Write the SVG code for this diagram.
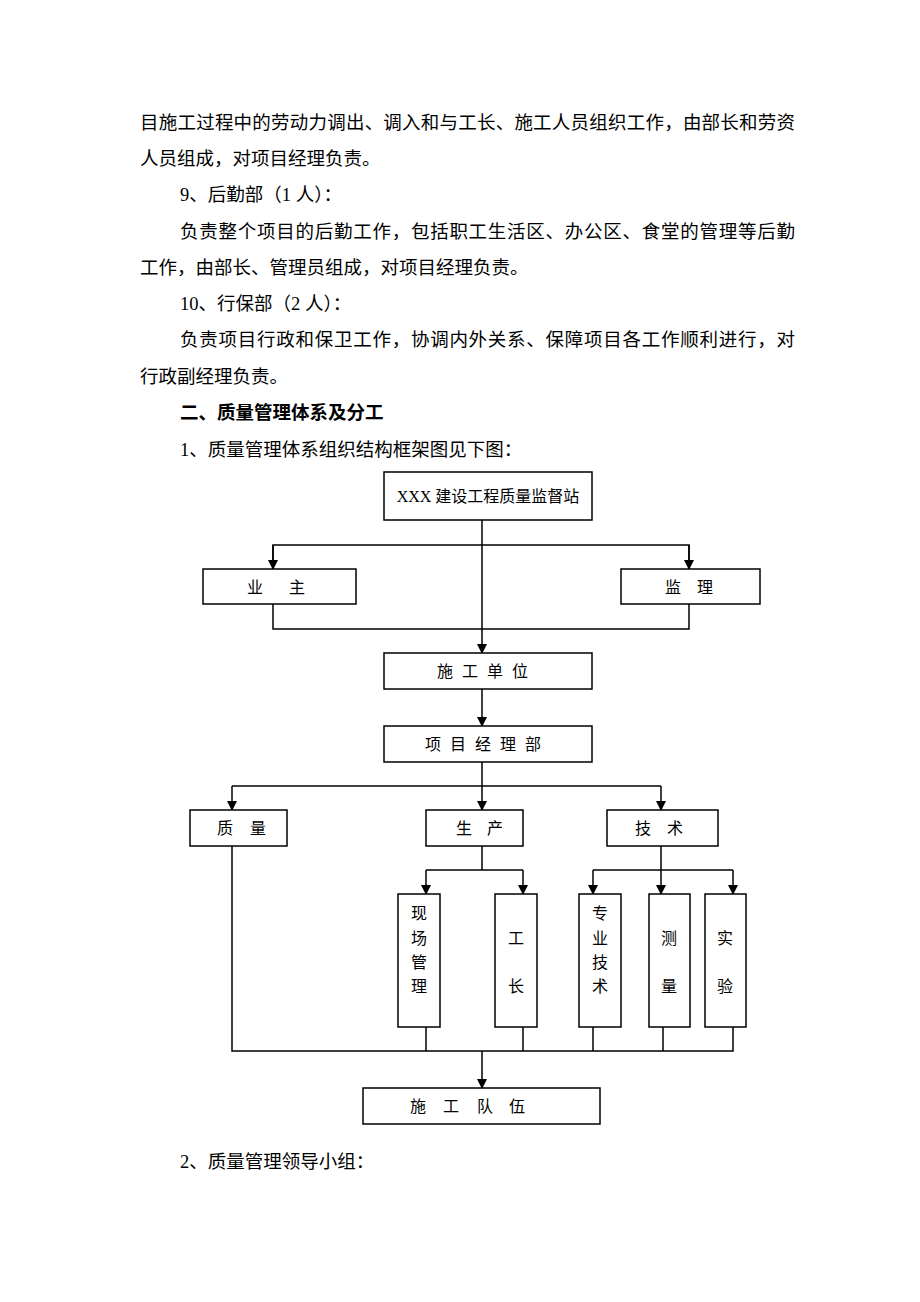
<svg xmlns="http://www.w3.org/2000/svg" width="920" height="1302" viewBox="0 0 920 1302">
<defs>
<style>
.p{font-family:"Liberation Serif","Noto Sans CJK SC",serif;font-size:18.5px;fill:#000}
.b{font-weight:bold}
.t{font-family:"Liberation Serif","Noto Sans CJK SC",serif;font-size:16px;fill:#000;text-anchor:middle}
.box{fill:#fff;stroke:#000;stroke-width:1.5}
.ln{fill:none;stroke:#000;stroke-width:1.5}
</style>
<marker id="ah" markerWidth="10" markerHeight="10" refX="9" refY="5" orient="auto" markerUnits="userSpaceOnUse">
<path d="M0,0 L10,5 L0,10 Z" fill="#000"/>
</marker>
</defs>
<rect width="920" height="1302" fill="#fff"/>
<g id="body-text">
<text class="p" x="140" y="129" textLength="655" lengthAdjust="spacing">目施工过程中的劳动力调出、调入和与工长、施工人员组织工作，由部长和劳资</text>
<text class="p" x="140" y="165">人员组成，对项目经理负责。</text>
<text class="p" x="180" y="201">9、后勤部（1 人）：</text>
<text class="p" x="180" y="238" textLength="615" lengthAdjust="spacing">负责整个项目的后勤工作，包括职工生活区、办公区、食堂的管理等后勤</text>
<text class="p" x="140" y="274">工作，由部长、管理员组成，对项目经理负责。</text>
<text class="p" x="180" y="310">10、行保部（2 人）：</text>
<text class="p" x="180" y="346" textLength="615" lengthAdjust="spacing">负责项目行政和保卫工作，协调内外关系、保障项目各工作顺利进行，对</text>
<text class="p" x="140" y="383">行政副经理负责。</text>
<text class="p b" x="180" y="419">二、质量管理体系及分工</text>
<text class="p" x="180" y="456">1、质量管理体系组织结构框架图见下图：</text>
<text class="p" x="180" y="1168">2、质量管理领导小组：</text>
</g>
<g id="connectors">
<line class="ln" x1="482" y1="520" x2="482" y2="653" marker-end="url(#ah)"/>
<polyline class="ln" points="273,569 273,545 689,545 689,569" />
<line class="ln" x1="273" y1="545" x2="273" y2="569" marker-end="url(#ah)"/>
<line class="ln" x1="689" y1="545" x2="689" y2="569" marker-end="url(#ah)"/>
<polyline class="ln" points="273,604 273,629 689,629 689,604"/>
<line class="ln" x1="482" y1="689" x2="482" y2="726" marker-end="url(#ah)"/>
<line class="ln" x1="482" y1="762" x2="482" y2="810" marker-end="url(#ah)"/>
<line class="ln" x1="232" y1="786" x2="661" y2="786"/>
<line class="ln" x1="232" y1="786" x2="232" y2="810" marker-end="url(#ah)"/>
<line class="ln" x1="661" y1="786" x2="661" y2="810" marker-end="url(#ah)"/>
<line class="ln" x1="482" y1="846" x2="482" y2="870"/>
<line class="ln" x1="426" y1="870" x2="523" y2="870"/>
<line class="ln" x1="426" y1="870" x2="426" y2="894" marker-end="url(#ah)"/>
<line class="ln" x1="523" y1="870" x2="523" y2="894" marker-end="url(#ah)"/>
<line class="ln" x1="661" y1="846" x2="661" y2="894" marker-end="url(#ah)"/>
<line class="ln" x1="593" y1="870" x2="733" y2="870"/>
<line class="ln" x1="593" y1="870" x2="593" y2="894" marker-end="url(#ah)"/>
<line class="ln" x1="733" y1="870" x2="733" y2="894" marker-end="url(#ah)"/>
<polyline class="ln" points="232,846 232,1051 733,1051 733,1027"/>
<line class="ln" x1="426" y1="1027" x2="426" y2="1051"/>
<line class="ln" x1="523" y1="1027" x2="523" y2="1051"/>
<line class="ln" x1="593" y1="1027" x2="593" y2="1051"/>
<line class="ln" x1="663" y1="1027" x2="663" y2="1051"/>
<line class="ln" x1="482" y1="1051" x2="482" y2="1088" marker-end="url(#ah)"/>
</g>
<g id="n-station"><rect class="box" x="384" y="472" width="208" height="48"/><text class="t" x="488" y="502">XXX 建设工程质量监督站</text></g>
<g id="n-owner"><rect class="box" x="203" y="569" width="153" height="35"/><text class="t" x="255 297" y="593">业主</text></g>
<g id="n-supervisor"><rect class="box" x="621" y="569" width="139" height="35"/><text class="t" x="673 705" y="593">监理</text></g>
<g id="n-contractor"><rect class="box" x="384" y="653" width="208" height="36"/><text class="t" x="445 470 495 520" y="677">施工单位</text></g>
<g id="n-pm"><rect class="box" x="384" y="726" width="208" height="36"/><text class="t" x="433 458 483 508 533" y="750">项目经理部</text></g>
<g id="n-quality"><rect class="box" x="190" y="810" width="97" height="36"/><text class="t" x="225 258" y="834">质量</text></g>
<g id="n-production"><rect class="box" x="426" y="810" width="97" height="36"/><text class="t" x="464 495" y="834">生产</text></g>
<g id="n-tech"><rect class="box" x="607" y="810" width="111" height="36"/><text class="t" x="643 675" y="834">技术</text></g>
<g id="n-site"><rect class="box" x="398" y="894" width="42" height="133"/><text class="t" x="419" y="919">现</text><text class="t" x="419" y="944">场</text><text class="t" x="419" y="968">管</text><text class="t" x="419" y="992">理</text></g>
<g id="n-foreman"><rect class="box" x="495" y="894" width="42" height="133"/><text class="t" x="516" y="944">工</text><text class="t" x="516" y="992">长</text></g>
<g id="n-specialty"><rect class="box" x="579" y="894" width="42" height="133"/><text class="t" x="600" y="919">专</text><text class="t" x="600" y="944">业</text><text class="t" x="600" y="968">技</text><text class="t" x="600" y="992">术</text></g>
<g id="n-survey"><rect class="box" x="649" y="894" width="41" height="133"/><text class="t" x="669" y="944">测</text><text class="t" x="669" y="992">量</text></g>
<g id="n-lab"><rect class="box" x="705" y="894" width="41" height="133"/><text class="t" x="725" y="944">实</text><text class="t" x="725" y="992">验</text></g>
<g id="n-team"><rect class="box" x="363" y="1088" width="237" height="36"/><text class="t" x="418 451 485 517" y="1112">施工队伍</text></g>
</svg>
